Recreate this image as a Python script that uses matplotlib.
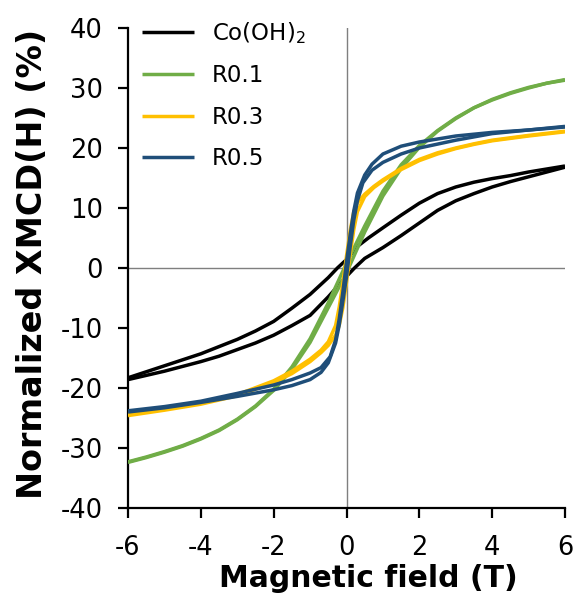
import matplotlib
matplotlib.use("Agg")
import matplotlib.pyplot as plt

# ---------------- data ----------------
# Co(OH)2 loop: descending branch (field +6 -> -6) and ascending branch
co_down_x = [6, 5.5, 5, 4.5, 4, 3.5, 3, 2.5, 2, 1.5, 1, 0.6, 0.3, 0, -0.25, -0.5, -1, -1.5, -2, -2.5, -3, -3.5, -4, -4.5, -5, -5.5, -6]
co_down_y = [17.0, 16.5, 16.0, 15.4, 14.9, 14.3, 13.5, 12.4, 10.8, 8.8, 6.7, 5.0, 3.6, 1.4, 0.0, -1.6, -4.4, -6.7, -8.9, -10.5, -11.9, -13.1, -14.3, -15.3, -16.3, -17.3, -18.3]
co_up_x = [-6, -5.5, -5, -4.5, -4, -3.5, -3, -2.5, -2, -1.5, -1, -0.5, 0, 0.22, 0.5, 1, 1.5, 2, 2.5, 3, 3.5, 4, 4.5, 5, 5.5, 6]
co_up_y = [-18.6, -17.9, -17.2, -16.4, -15.6, -14.7, -13.6, -12.5, -11.2, -9.6, -7.9, -4.8, -1.4, 0.0, 1.6, 3.4, 5.4, 7.5, 9.6, 11.2, 12.4, 13.5, 14.4, 15.2, 16.0, 16.8]

# R0.1 loop (very narrow)
r01_down_x = [6, 5.5, 5, 4.5, 4, 3.5, 3, 2.5, 2, 1.5, 1, 0.5, 0, -0.5, -1, -1.5, -2, -2.5, -3, -3.5, -4, -4.5, -5, -5.5, -6]
r01_down_y = [31.4, 30.8, 30.1, 29.2, 28.1, 26.7, 25.0, 22.9, 20.4, 17.2, 12.8, 7.0, 0.8, -5.8, -11.8, -16.5, -20.2, -23.0, -25.2, -27.0, -28.4, -29.6, -30.6, -31.5, -32.3]
r01_up_x = [-6, -5.5, -5, -4.5, -4, -3.5, -3, -2.5, -2, -1.5, -1, -0.5, 0, 0.5, 1, 1.5, 2, 2.5, 3, 3.5, 4, 4.5, 5, 5.5, 6]
r01_up_y = [-32.4, -31.6, -30.7, -29.7, -28.5, -27.1, -25.3, -23.1, -20.4, -16.9, -12.4, -6.6, -0.8, 6.0, 12.0, 16.6, 20.1, 22.8, 24.9, 26.7, 28.0, 29.1, 30.0, 30.8, 31.3]

# R0.3 loop
r03_down_x = [6, 5, 4, 3.5, 3, 2.5, 2, 1.5, 1, 0.75, 0.5, 0.3, 0.2, 0.1, 0, -0.1, -0.2, -0.3, -0.5, -0.7, -1, -1.5, -2, -3, -4, -5, -6]
r03_down_y = [22.8, 22.1, 21.3, 20.7, 20.0, 19.2, 18.1, 16.6, 14.7, 13.6, 12.3, 10.9, 9.4, 6.2, 2.0, -2.5, -6.5, -9.6, -12.3, -13.7, -15.2, -17.2, -18.8, -21.1, -22.5, -23.5, -24.3]
r03_up_x = [-6, -5, -4, -3, -2, -1.5, -1, -0.7, -0.5, -0.3, -0.2, -0.1, 0, 0.1, 0.2, 0.3, 0.5, 0.75, 1, 1.5, 2, 2.5, 3, 3.5, 4, 5, 6]
r03_up_y = [-24.6, -23.7, -22.7, -21.3, -19.1, -17.6, -15.6, -14.1, -12.9, -11.2, -9.6, -6.6, -2.4, 2.2, 6.4, 9.4, 11.9, 13.4, 14.5, 16.4, 17.9, 19.0, 19.9, 20.6, 21.2, 22.0, 22.7]

# R0.5 loop
r05_down_x = [6, 5, 4, 3, 2, 1.5, 1, 0.7, 0.5, 0.3, 0.2, 0.1, 0, -0.1, -0.2, -0.3, -0.45, -0.7, -1, -1.5, -2, -3, -4, -5, -6]
r05_down_y = [23.5, 23.0, 22.6, 22.0, 21.0, 20.3, 19.0, 17.3, 15.5, 12.5, 9.5, 5.5, 1.0, -4.0, -8.5, -12.0, -14.8, -16.6, -17.5, -18.6, -19.5, -20.9, -22.2, -23.1, -23.8]
r05_up_x = [-6, -5, -4, -3, -2, -1.5, -1, -0.7, -0.5, -0.3, -0.2, -0.1, 0, 0.1, 0.2, 0.3, 0.45, 0.7, 1, 1.5, 2, 3, 4, 5, 6]
r05_up_y = [-24.0, -23.3, -22.4, -21.4, -20.3, -19.6, -18.6, -17.4, -15.8, -12.5, -9.5, -5.5, -1.5, 3.5, 8.0, 11.2, 14.2, 16.3, 17.6, 19.0, 20.0, 21.3, 22.4, 23.0, 23.6]

labels = ["Co(OH)$_2$", "R0.1", "R0.3", "R0.5"]
colors = ["#000000", "#70AD47", "#FFC000", "#1F4E79"]

x_ticks = [-6, -4, -2, 0, 2, 4, 6]
y_ticks = [-40, -30, -20, -10, 0, 10, 20, 30, 40]

# ---------------- figure ----------------
plt.rcParams["font.family"] = ["DejaVu Sans"]
plt.rcParams["mathtext.default"] = "regular"
fig = plt.figure(figsize=(5.73, 5.96), dpi=100)
ax = fig.add_axes([128 / 573, 1 - 508 / 596, (565 - 128) / 573, (508 - 28) / 596])

ax.axhline(0, color="#7f7f7f", lw=1.0, zorder=1)
ax.axvline(0, color="#7f7f7f", lw=1.0, zorder=1)

series = [
    (co_down_x, co_down_y, co_up_x, co_up_y),
    (r01_down_x, r01_down_y, r01_up_x, r01_up_y),
    (r03_down_x, r03_down_y, r03_up_x, r03_up_y),
    (r05_down_x, r05_down_y, r05_up_x, r05_up_y),
]
lw = 2.5
for (dx, dy, ux, uy), lab, col in zip(series, labels, colors):
    ax.plot(dx, dy, color=col, lw=lw, solid_joinstyle="round", solid_capstyle="butt", label=lab, zorder=3)
    ax.plot(ux, uy, color=col, lw=lw, solid_joinstyle="round", solid_capstyle="butt", zorder=3)

ax.set_xlim(-6, 6)
ax.set_ylim(-40, 40)
ax.set_xticks(x_ticks)
ax.set_yticks(y_ticks)
ax.set_xticklabels([str(v) for v in x_ticks])
ax.set_yticklabels([str(v) for v in y_ticks])

for side in ["top", "right"]:
    ax.spines[side].set_visible(False)
for side in ["left", "bottom"]:
    ax.spines[side].set_linewidth(1.6)
    ax.spines[side].set_color("black")
ax.tick_params(axis="both", direction="out", length=7, width=1.6, labelsize=18.5, colors="black")
ax.tick_params(axis="y", pad=11)
ax.tick_params(axis="x", pad=12.5)

ax.set_xlabel("Magnetic field (T)", fontsize=21.5, fontweight="bold")
ax.xaxis.set_label_coords((368 - 128) / 437, -(564 - 508) / 480)
ax.set_ylabel("Normalized XMCD(H) (%)", fontsize=24, fontweight="bold")
ax.yaxis.set_label_coords(-(128 - 49) / 437, (508 - 264) / 480)

leg = ax.legend(loc="upper left", bbox_to_anchor=(0.0, 1.045), frameon=False, fontsize=16.5,
                handlelength=2.3, handletextpad=0.75, labelspacing=0.8, borderaxespad=0.2)

fig.savefig("out.png", dpi=100)
